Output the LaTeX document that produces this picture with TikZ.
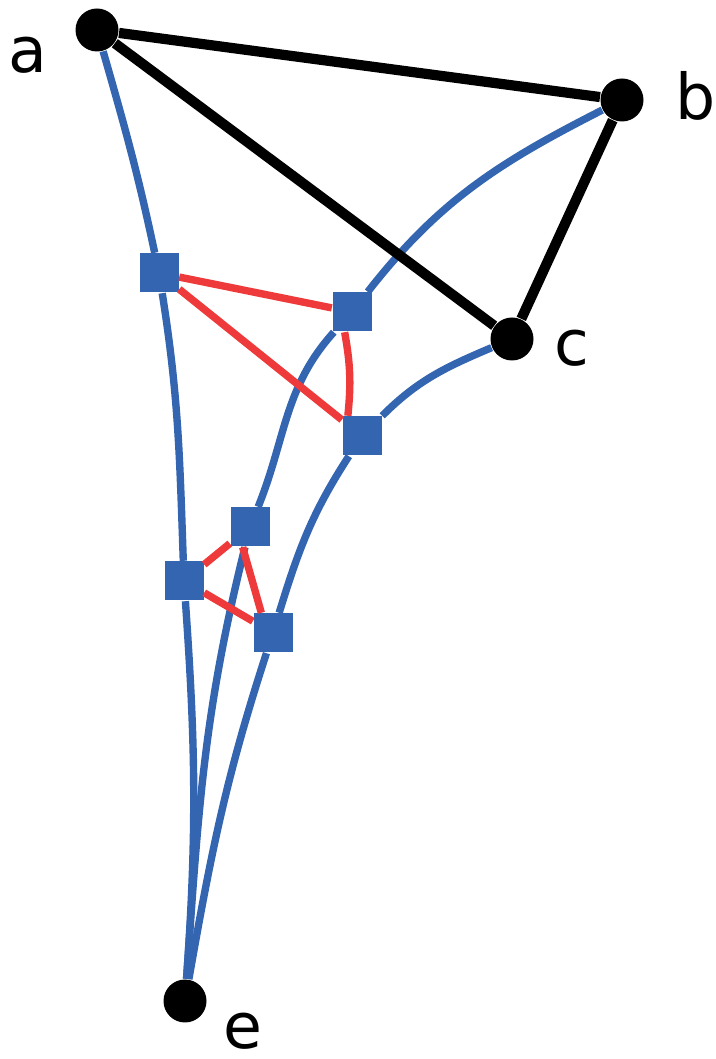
\documentclass[tikz,border=0pt]{standalone}
\usepackage{fontspec}
\setmainfont{DejaVu Sans}
\usepackage{tikz}
\usetikzlibrary{positioning}
\definecolor{netblue}{RGB}{52,101,176}
\definecolor{trired}{RGB}{238,58,58}

\begin{document}
\begin{tikzpicture}[
  every node/.style={font=\fontsize{18}{21}\selectfont,inner sep=0pt},
  vert/.style={circle,fill=black,minimum size=4.3mm},
  sq/.style={rectangle,fill=netblue,minimum size=3.9mm},
  edg/.style={line width=2.9pt},
  bl/.style={netblue,line width=2.1pt},
  tri/.style={trired,line width=2.1pt}
]
\useasboundingbox (0,0) rectangle (7.15,10.59);
\node[vert] (a) at (0.97,10.29) {};
\node[vert] (b) at (6.22,9.59) {};
\node[vert] (c) at (5.12,7.20) {};
\node[vert] (e) at (1.85,0.58) {};
\node[sq] (s1) at (1.59,7.86) {};
\node[sq] (s2) at (3.52,7.47) {};
\node[sq] (s3) at (3.62,6.23) {};
\node[sq] (s4) at (2.50,5.32) {};
\node[sq] (s5) at (1.84,4.78) {};
\node[sq] (s6) at (2.73,4.26) {};
\node[left=0.27cm of a,yshift=-0.25cm] (la) {a};
\node[right=0.31cm of b,yshift=0.04cm] (lb) {b};
\node[right=0.2cm of c,yshift=-0.09cm] (lc) {c};
\node[right=0.16cm of e,yshift=-0.3cm] (le) {e};
\draw[bl] (a) to[out=-74,in=102] (s1) to[out=-81,in=92] (s5) to[out=-86,in=86] (e);
\draw[bl] (b) to[out=207,in=52] (s2) to[out=228,in=68] (s4) to[out=256,in=86] (e);
\draw[bl] (c) to[out=203,in=45] (s3) to[out=237,in=73] (s6) to[out=252,in=80] (e);
\draw[tri] (s1)--(s2) (s1)--(s3) (s2.250) to[bend left=8] (s3.125);
\draw[tri] (s5)--(s4) (s5)--(s6) (s4.250)--(s6.120);
\draw[edg] (a)--(b) (a)--(c) (b)--(c);
\end{tikzpicture}
\end{document}
